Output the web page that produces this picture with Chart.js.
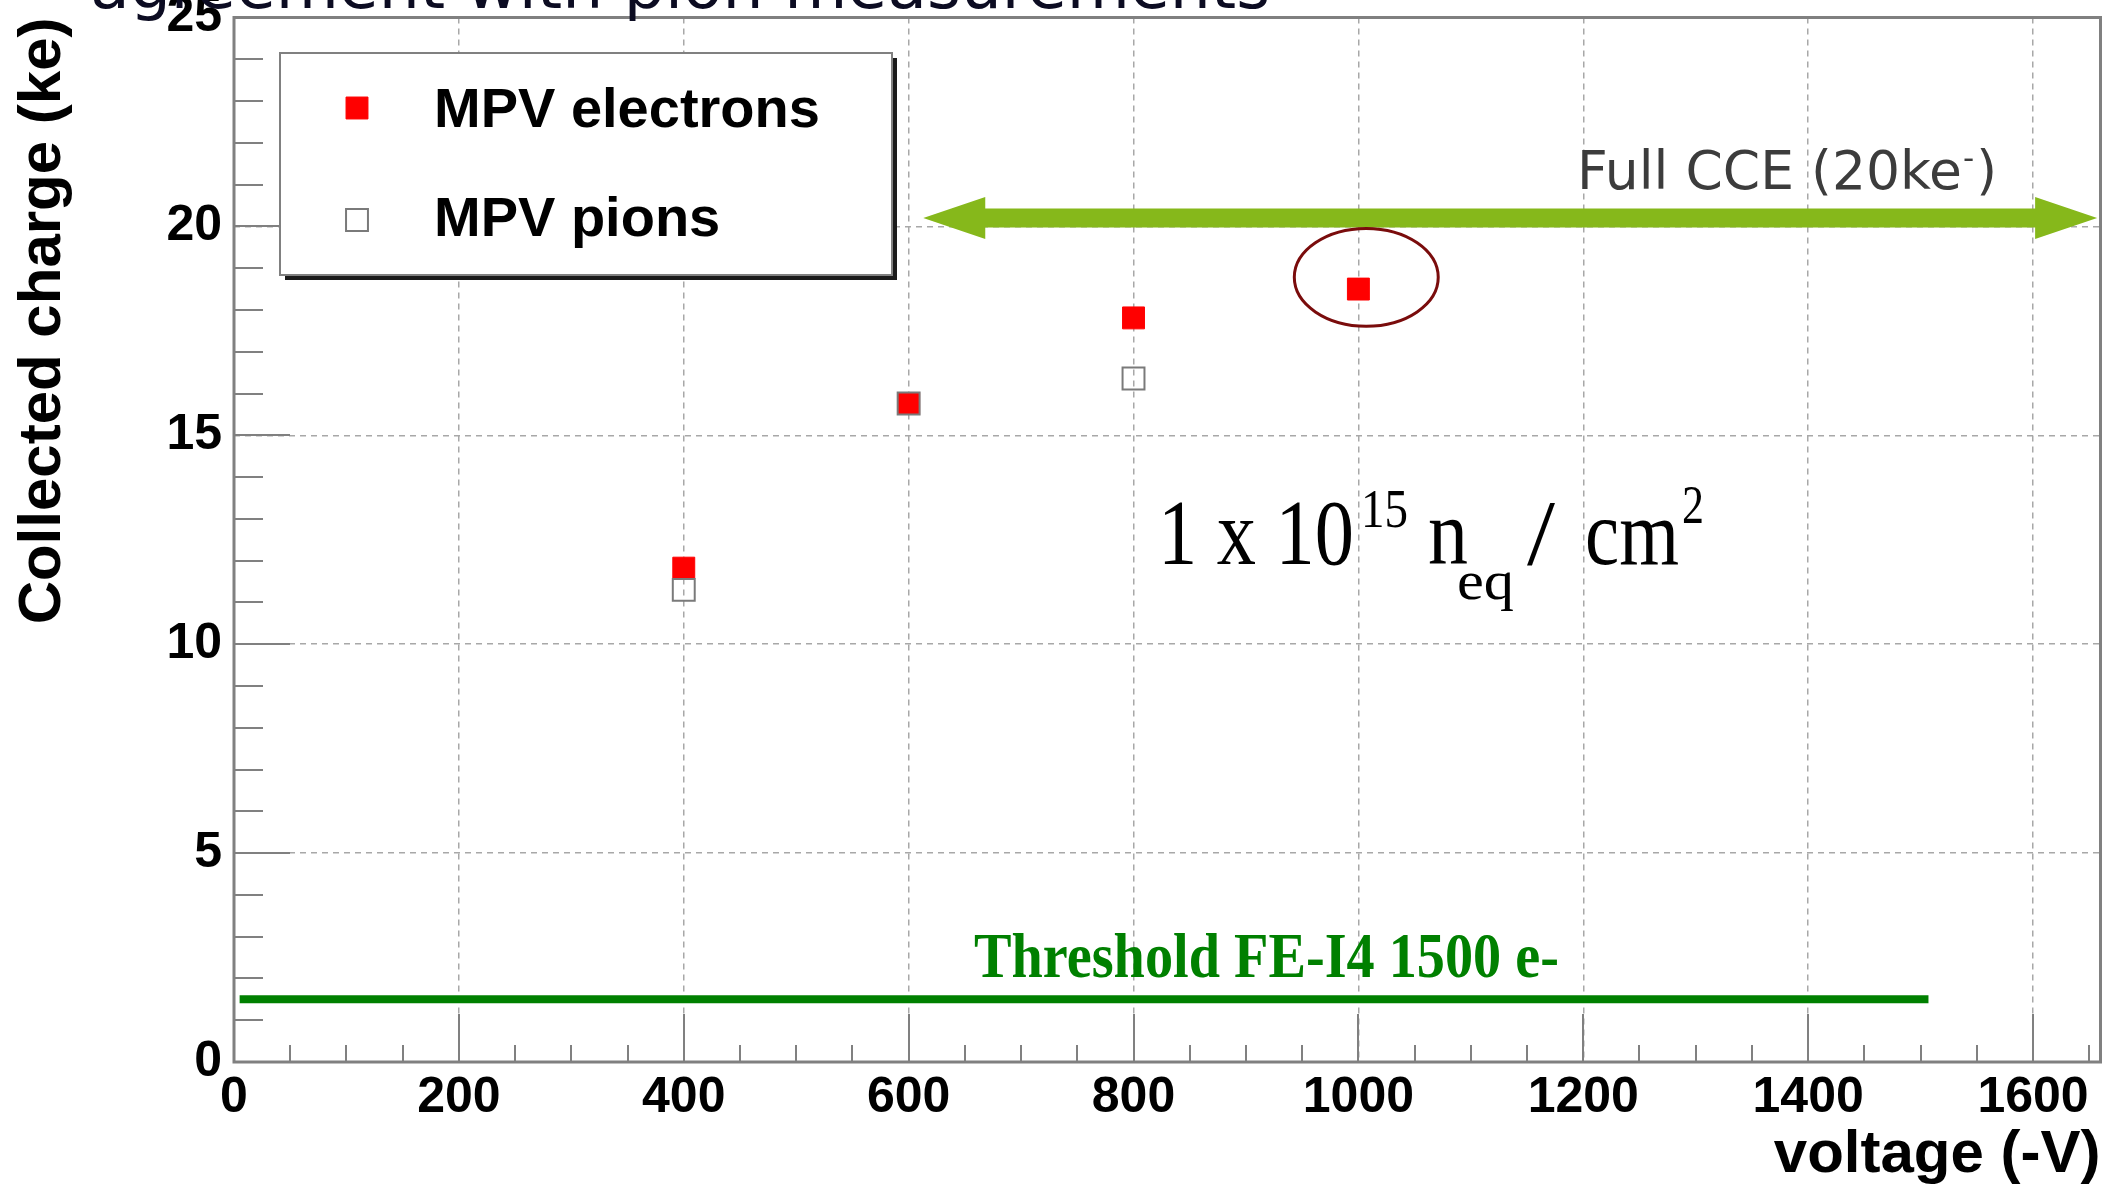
<!DOCTYPE html>
<html>
<head>
<meta charset="utf-8">
<title>Collected charge vs voltage</title>
<script src="https://cdn.jsdelivr.net/npm/chart.js@4.4.1/dist/chart.umd.min.js"></script>
<style>
  html, body { margin: 0; padding: 0; background: #ffffff; }
  #wrap { width: 2118px; height: 1191px; position: relative; }
</style>
</head>
<body>
<div id="wrap"><canvas id="c" width="2118" height="1191"></canvas></div>
<script>
// Most probable values of collected charge (ke) versus bias voltage (-V)
const electronVoltages = [400, 600, 800, 1000];
const electronCharge   = [11.82, 15.76, 17.81, 18.50];
const pionVoltages     = [400, 600, 800];
const pionCharge       = [11.30, 15.76, 16.36];

// Axis ticks
const xTickValues = [0, 200, 400, 600, 800, 1000, 1200, 1400, 1600];
const yTickValues = [0, 5, 10, 15, 20, 25];
const xMax = 1660;
const yMax = 25;

// Reference levels
const thresholdCharge = 1.5;          // FE-I4 threshold, ke
const thresholdRange  = [5, 1507];    // V
const fullCceCharge   = 20.2;         // full charge collection, ke
const fullCceRange    = [613, 1657];  // V

// Highlighted measurement (ellipse around the 1000 V point)
const highlightCenter = [1007, 18.78];
const highlightRadius = [64, 1.17];

const RED = '#ff0000';
const PION_GREY = '#7a7a7a';
const FRAME_GREY = '#808080';

function fittedText(ctx, text, x, y, font, color, width) {
  ctx.save();
  ctx.font = font;
  ctx.fillStyle = color;
  ctx.textAlign = 'left';
  ctx.textBaseline = 'alphabetic';
  const w = ctx.measureText(text).width;
  ctx.translate(x, y);
  ctx.scale(width / w, 1);
  ctx.fillText(text, 0, 0);
  ctx.restore();
}

const decor = {
  id: 'decor',
  beforeDatasetsDraw(chart) {
    const { ctx, chartArea: a, scales: { x, y } } = chart;
    ctx.save();
    // inward-pointing tick marks (major + minor)
    ctx.strokeStyle = FRAME_GREY;
    ctx.lineWidth = 2;
    ctx.beginPath();
    for (let v = 0; v <= yMax; v += 1) {
      const py = Math.round(y.getPixelForValue(v));
      const len = v % 5 === 0 ? 56 : 29;
      ctx.moveTo(a.left, py);
      ctx.lineTo(a.left + len, py);
    }
    for (let v = 0; v <= xMax; v += 50) {
      const px = Math.round(x.getPixelForValue(v));
      const len = v % 200 === 0 ? 48 : 17;
      ctx.moveTo(px, a.bottom);
      ctx.lineTo(px, a.bottom - len);
    }
    ctx.stroke();
    // plot frame
    ctx.lineWidth = 3;
    ctx.strokeRect(a.left, a.top, a.right - a.left, a.bottom - a.top);
    ctx.restore();
  },
  afterDatasetsDraw(chart) {
    const { ctx, scales: { x, y } } = chart;
    ctx.save();

    // Full CCE double arrow
    const ay = y.getPixelForValue(fullCceCharge);
    const ax0 = x.getPixelForValue(fullCceRange[0]);
    const ax1 = x.getPixelForValue(fullCceRange[1]);
    const headLen = 62, headHalf = 21, shaftHalf = 9.5;
    ctx.fillStyle = '#86b81b';
    ctx.beginPath();
    ctx.moveTo(ax0, ay);
    ctx.lineTo(ax0 + headLen, ay - headHalf);
    ctx.lineTo(ax0 + headLen, ay - shaftHalf);
    ctx.lineTo(ax1 - headLen, ay - shaftHalf);
    ctx.lineTo(ax1 - headLen, ay - headHalf);
    ctx.lineTo(ax1, ay);
    ctx.lineTo(ax1 - headLen, ay + headHalf);
    ctx.lineTo(ax1 - headLen, ay + shaftHalf);
    ctx.lineTo(ax0 + headLen, ay + shaftHalf);
    ctx.lineTo(ax0 + headLen, ay + headHalf);
    ctx.closePath();
    ctx.fill();

    // Full CCE label with superscript minus
    ctx.fillStyle = '#3c3c3c';
    ctx.textBaseline = 'alphabetic';
    ctx.textAlign = 'left';
    ctx.font = '53.5px "DejaVu Sans"';
    let tx = 1577;
    const part1 = 'Full CCE (20ke';
    ctx.fillText(part1, tx, 189);
    tx += ctx.measureText(part1).width + 1;
    ctx.font = '31px "DejaVu Sans"';
    ctx.fillText('-', tx, 168);
    tx += ctx.measureText('-').width + 2;
    ctx.font = '53.5px "DejaVu Sans"';
    ctx.fillText(')', tx, 189);

    // ellipse around the 1000 V point
    const ex = x.getPixelForValue(highlightCenter[0]);
    const ey = y.getPixelForValue(highlightCenter[1]);
    const erx = x.getPixelForValue(highlightCenter[0] + highlightRadius[0]) - ex;
    const ery = ey - y.getPixelForValue(highlightCenter[1] + highlightRadius[1]);
    ctx.strokeStyle = '#7a0c0c';
    ctx.lineWidth = 3;
    ctx.beginPath();
    ctx.ellipse(ex, ey, erx, ery, 0, 0, Math.PI * 2);
    ctx.stroke();

    // fluence label: 1 x 10^15 n_eq / cm^2
    const serif = '"Liberation Serif", "DejaVu Serif", serif';
    fittedText(ctx, '1 x 10', 1158, 564, '94px ' + serif, '#000', 196);
    fittedText(ctx, '15', 1361, 527, '54px ' + serif, '#000', 47);
    fittedText(ctx, 'n', 1428, 564, '94px ' + serif, '#000', 40);
    fittedText(ctx, 'eq', 1457, 599, '54px ' + serif, '#000', 57);
    fittedText(ctx, '/', 1527, 564, '94px ' + serif, '#000', 28);
    fittedText(ctx, 'cm', 1585, 564, '94px ' + serif, '#000', 94);
    fittedText(ctx, '2', 1682, 523, '54px ' + serif, '#000', 22);

    // threshold label
    fittedText(ctx, 'Threshold FE-I4 1500 e-', 974, 977, 'bold 63px ' + serif, '#008000', 585);

    // legend box with drop shadow
    const lx = 280, ly = 53, lw = 612, lh = 222;
    ctx.fillStyle = '#1a1a1a';
    ctx.fillRect(lx + 5, ly + 5, lw, lh);
    ctx.fillStyle = '#ffffff';
    ctx.fillRect(lx, ly, lw, lh);
    ctx.strokeStyle = FRAME_GREY;
    ctx.lineWidth = 2;
    ctx.strokeRect(lx, ly, lw, lh);

    const ds = chart.data.datasets;
    const entries = [
      { d: ds.find(d => d.label === 'MPV electrons'), cy: 108, ty: 112 },
      { d: ds.find(d => d.label === 'MPV pions'), cy: 220, ty: 221 }
    ];
    entries.forEach(({ d, cy, ty }) => {
      ctx.save();
      ctx.fillStyle = d.backgroundColor;
      ctx.strokeStyle = d.borderColor;
      ctx.lineWidth = d.borderWidth;
      Chart.helpers.drawPoint(ctx, { pointStyle: 'rect', radius: d.pointRadius, borderWidth: d.borderWidth, rotation: 0 }, 357, cy);
      ctx.restore();
      ctx.fillStyle = '#000';
      ctx.font = 'bold 56px "Liberation Sans", Arial, sans-serif';
      ctx.textBaseline = 'middle';
      ctx.textAlign = 'left';
      ctx.fillText(d.label, 434, ty);
    });
    ctx.restore();
  },
  afterDraw(chart) {
    const { ctx } = chart;
    // slide heading, partly cut at the top edge
    fittedText(ctx, 'agreement with pion measurements', 90, 8, '64px "DejaVu Sans"', '#0c0c22', 1180);
  }
};

const tickFont = { family: '"Liberation Sans", Arial, sans-serif', size: 50, weight: 'bold' };
const titleFont = { family: '"Liberation Sans", Arial, sans-serif', size: 60, weight: 'bold' };

new Chart(document.getElementById('c'), {
  type: 'scatter',
  data: {
    datasets: [
      {
        label: 'MPV pions',
        data: pionVoltages.map((v, i) => ({ x: v, y: pionCharge[i] })),
        pointStyle: 'rect',
        pointRadius: 15.5,
        pointHoverRadius: 15.5,
        backgroundColor: 'rgba(255,255,255,0)',
        borderColor: PION_GREY,
        borderWidth: 2,
        order: 0
      },
      {
        label: 'MPV electrons',
        data: electronVoltages.map((v, i) => ({ x: v, y: electronCharge[i] })),
        pointStyle: 'rect',
        pointRadius: 15.5,
        pointHoverRadius: 15.5,
        backgroundColor: RED,
        borderColor: RED,
        borderWidth: 1,
        order: 1
      },
      {
        label: 'Threshold FE-I4',
        data: thresholdRange.map(v => ({ x: v, y: thresholdCharge })),
        showLine: true,
        borderColor: '#008000',
        borderWidth: 8,
        borderCapStyle: 'butt',
        pointRadius: 0,
        pointHoverRadius: 0,
        order: 2
      }
    ]
  },
  options: {
    responsive: false,
    animation: false,
    devicePixelRatio: 1,
    layout: { padding: { top: 13, right: 11, left: 0, bottom: 0 } },
    plugins: { legend: { display: false }, tooltip: { enabled: false } },
    scales: {
      x: {
        type: 'linear',
        min: 0,
        max: xMax,
        afterBuildTicks: s => { s.ticks = xTickValues.map(v => ({ value: v })); },
        afterFit: s => { s.height = 129; s.paddingLeft = 0; s.paddingRight = 0; },
        ticks: { font: tickFont, color: '#000', padding: 6, maxRotation: 0, autoSkip: false, callback: v => String(v) },
        grid: { color: '#a8a8a8', lineWidth: 1.5, drawTicks: false, tickLength: 0, borderDash: [6, 5] },
        border: { display: false, dash: [6, 5] },
        title: { display: true, text: 'voltage (-V)', align: 'end', font: titleFont, color: '#000', padding: { top: 0, bottom: 0 } }
      },
      y: {
        type: 'linear',
        min: 0,
        max: yMax,
        afterBuildTicks: s => { s.ticks = yTickValues.map(v => ({ value: v })); },
        afterFit: s => { s.width = 234; s.paddingTop = 0; s.paddingBottom = 0; },
        ticks: { font: tickFont, color: '#000', padding: 12, autoSkip: false, callback: v => String(v) },
        grid: { color: '#a8a8a8', lineWidth: 1.5, drawTicks: false, tickLength: 0, borderDash: [6, 5] },
        border: { display: false, dash: [6, 5] },
        title: { display: true, text: 'Collected charge (ke)', align: 'end', font: titleFont, color: '#000', padding: { top: 7, bottom: 0 } }
      }
    }
  },
  plugins: [decor]
});
</script>
</body>
</html>
